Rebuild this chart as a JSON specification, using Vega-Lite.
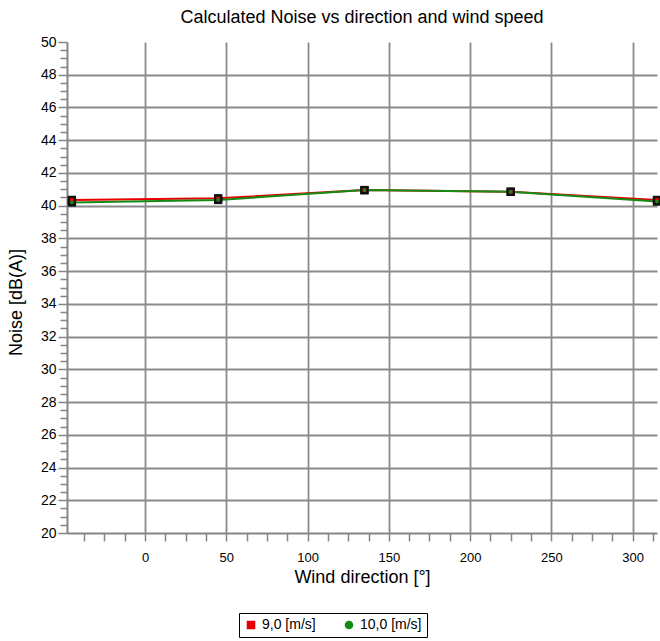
{
  "$schema": "https://vega.github.io/schema/vega-lite/v6.json",
  "width": 590,
  "height": 491,
  "autosize": "none",
  "padding": {"left": 67, "top": 42, "right": 3, "bottom": 108},
  "background": "white",
  "title": {"text": "Calculated Noise vs direction and wind speed", "font": "Liberation Sans", "fontSize": 18, "fontWeight": "normal", "color": "black", "offset": 8, "anchor": "middle"},
  "config": {
    "view": {"stroke": null},
    "axis": {
      "labelFont": "Liberation Sans", "labelFontSize": 13, "labelColor": "black",
      "titleFont": "Liberation Sans", "titleFontSize": 18, "titleFontWeight": "normal", "titleColor": "black",
      "domainColor": "#858585", "domainWidth": 2, "tickColor": "#858585", "tickWidth": 1.5,
      "gridColor": "#8a8a8a", "gridWidth": 1.8
    }
  },
  "data": {"values": [
    {"dir": -45, "noise": 40.35, "speed": "9,0 [m/s]"},
    {"dir": 45, "noise": 40.45, "speed": "9,0 [m/s]"},
    {"dir": 135, "noise": 40.95, "speed": "9,0 [m/s]"},
    {"dir": 225, "noise": 40.85, "speed": "9,0 [m/s]"},
    {"dir": 315, "noise": 40.35, "speed": "9,0 [m/s]"},
    {"dir": -45, "noise": 40.2, "speed": "10,0 [m/s]"},
    {"dir": 45, "noise": 40.35, "speed": "10,0 [m/s]"},
    {"dir": 135, "noise": 40.95, "speed": "10,0 [m/s]"},
    {"dir": 225, "noise": 40.85, "speed": "10,0 [m/s]"},
    {"dir": 315, "noise": 40.25, "speed": "10,0 [m/s]"}
  ]},
  "encoding": {
    "x": {"field": "dir", "type": "quantitative",
      "scale": {"domain": [-48, 315], "nice": false, "zero": false},
      "axis": {"title": "Wind direction [°]", "titlePadding": 4,
        "values": [-37.5, -25, -12.5, 0, 12.5, 25, 37.5, 50, 62.5, 75, 87.5, 100, 112.5, 125, 137.5, 150, 162.5, 175, 187.5, 200, 212.5, 225, 237.5, 250, 262.5, 275, 287.5, 300, 312.5],
        "labelExpr": "datum.value % 50 === 0 ? format(datum.value, 'd') : ''",
        "tickSize": 8, "labelPadding": 10,
        "gridOpacity": {"condition": {"test": "datum.value % 50 === 0", "value": 1}, "value": 0}
      }
    },
    "y": {"field": "noise", "type": "quantitative",
      "scale": {"domain": [20, 50], "nice": false, "zero": false},
      "axis": {"title": "Noise [dB(A)]", "titleX": -42, "titleY": 260,
        "values": [20, 20.5, 21, 21.5, 22, 22.5, 23, 23.5, 24, 24.5, 25, 25.5, 26, 26.5, 27, 27.5, 28, 28.5, 29, 29.5, 30, 30.5, 31, 31.5, 32, 32.5, 33, 33.5, 34, 34.5, 35, 35.5, 36, 36.5, 37, 37.5, 38, 38.5, 39, 39.5, 40, 40.5, 41, 41.5, 42, 42.5, 43, 43.5, 44, 44.5, 45, 45.5, 46, 46.5, 47, 47.5, 48, 48.5, 49, 49.5, 50],
        "labelExpr": "datum.value % 2 === 0 ? format(datum.value, 'd') : ''",
        "labelFontSize": 14,
        "tickSize": {"condition": {"test": "datum.value % 2 === 0", "value": 9}, "value": 7},
        "labelPadding": 2,
        "gridOpacity": {"condition": {"test": "datum.value % 2 === 0 && datum.value > 20 && datum.value < 50", "value": 1}, "value": 0}
      }
    }
  },
  "layer": [
    {"mark": {"type": "line", "strokeWidth": 2},
     "encoding": {
       "color": {"field": "speed", "type": "nominal",
         "scale": {"domain": ["9,0 [m/s]", "10,0 [m/s]"], "range": ["#e80000", "#168a16"]},
         "legend": {"title": null, "orient": "none", "legendX": 172, "legendY": 571, "direction": "horizontal",
           "strokeColor": "black", "padding": 5, "labelFont": "Liberation Sans", "labelFontSize": 14, "labelColor": "black", "columnPadding": 26, "symbolSize": 50}
       },
       "order": {"field": "dir"}
     }},
    {"mark": {"type": "point", "shape": "square", "filled": true, "color": "#111111", "size": 70, "opacity": 1},
     "encoding": {"detail": {"field": "speed"}}},
    {"mark": {"type": "point", "filled": true, "size": 14, "opacity": 1},
     "encoding": {
       "color": {"field": "speed", "type": "nominal"},
       "shape": {"field": "speed", "type": "nominal", "scale": {"domain": ["9,0 [m/s]", "10,0 [m/s]"], "range": ["square", "circle"]}}
     }}
  ]
}
